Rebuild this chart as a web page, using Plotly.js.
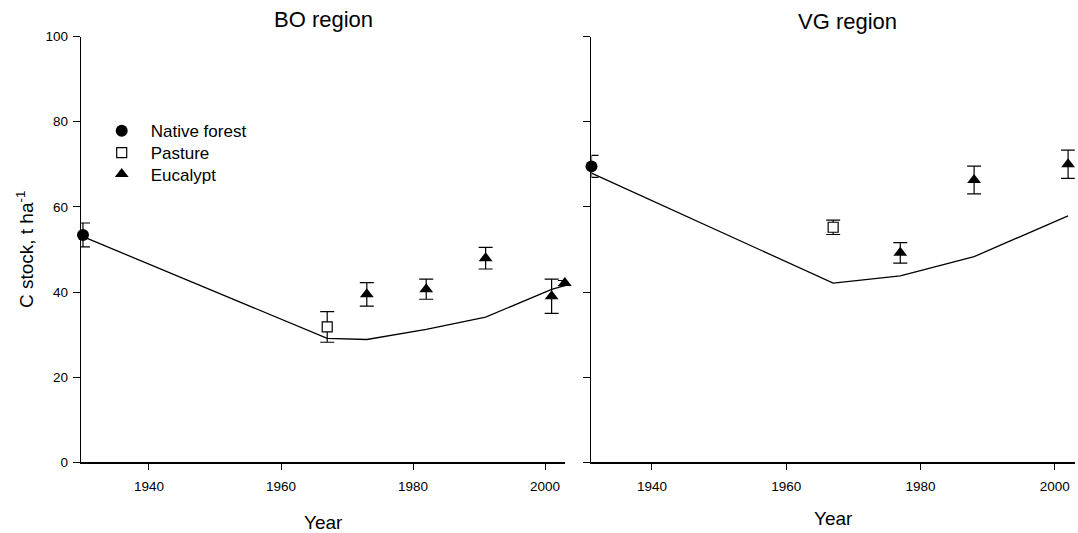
<!DOCTYPE html>
<html>
<head>
<meta charset="utf-8">
<script src="https://cdn.plot.ly/plotly-3.0.1.min.js"></script>
<style>
  html, body { margin: 0; padding: 0; background: #ffffff; }
  #chart { width: 1078px; height: 533px; }
</style>
</head>
<body>
<div id="chart"></div>
<script>
// ---- BO region ----
const boNativeYear = [1930];
const boNativeC = [53.4];
const boNativeErr = [2.8];

const boPastureYear = [1967];
const boPastureC = [31.8];
const boPastureErr = [3.6];

const boEucYears = [1973, 1982, 1991, 2001, 2003];
const boEucC = [39.45, 40.65, 47.95, 39.0, 42.1];
const boEucErr = [2.75, 2.35, 2.55, 4.0, 0.6];

const boModelYears = [1930, 1967, 1973, 1982, 1991, 2001, 2003];
const boModelC = [53.0, 29.1, 28.85, 31.2, 34.1, 40.6, 41.5];

// ---- VG region ----
const vgNativeYear = [1931];
const vgNativeC = [69.5];
const vgNativeErr = [2.6];

const vgPastureYear = [1967];
const vgPastureC = [55.2];
const vgPastureErr = [1.7];

const vgEucYears = [1977, 1988, 2002];
const vgEucC = [49.2, 66.3, 70.0];
const vgEucErr = [2.4, 3.25, 3.3];

const vgModelYears = [1931, 1967, 1977, 1988, 2002];
const vgModelC = [67.9, 42.1, 43.8, 48.3, 57.9];

// ---- labels ----
const panelTitles = ['BO region', 'VG region'];
const seriesNames = ['Native forest', 'Pasture', 'Eucalypt'];
const xTitle = 'Year';
const yTitle = 'C stock, t ha<sup>-1</sup>';

const FONT = 'Liberation Sans, Arial, Helvetica, sans-serif';

function errBars(arr) {
  return { type: 'data', array: arr, visible: true, color: '#000', thickness: 1.2, width: 7 };
}

const markerNative = { symbol: 'circle', size: 12, color: '#000' };
const markerPasture = { symbol: 'square', size: 10, color: '#fff', line: { color: '#000', width: 1.2 } };
const markerEuc = { symbol: 'triangle-up', size: 12, color: '#000', line: { width: 0 } };

function panelTraces(xa, ya, mYears, mC, nY, nC, nE, pY, pC, pE, eY, eC, eE, withLegend) {
  return [
    { x: mYears, y: mC, xaxis: xa, yaxis: ya, type: 'scatter', mode: 'lines',
      line: { color: '#000', width: 1.3 }, showlegend: false, cliponaxis: false, hoverinfo: 'x+y' },
    { x: nY, y: nC, xaxis: xa, yaxis: ya, type: 'scatter', mode: 'markers', name: seriesNames[0],
      marker: markerNative, error_y: errBars(nE), showlegend: withLegend, legend: 'legend', cliponaxis: false },
    { x: pY, y: pC, xaxis: xa, yaxis: ya, type: 'scatter', mode: 'markers', name: seriesNames[1],
      marker: markerPasture, error_y: errBars(pE), showlegend: withLegend, legend: 'legend2', cliponaxis: false },
    { x: eY, y: eC, xaxis: xa, yaxis: ya, type: 'scatter', mode: 'markers', name: seriesNames[2],
      marker: markerEuc, error_y: errBars(eE), showlegend: withLegend, legend: 'legend3', cliponaxis: false }
  ];
}

const data = []
  .concat(panelTraces('x', 'y', boModelYears, boModelC, boNativeYear, boNativeC, boNativeErr,
    boPastureYear, boPastureC, boPastureErr, boEucYears, boEucC, boEucErr, true))
  .concat(panelTraces('x2', 'y2', vgModelYears, vgModelC, vgNativeYear, vgNativeC, vgNativeErr,
    vgPastureYear, vgPastureC, vgPastureErr, vgEucYears, vgEucC, vgEucErr, false));

function xAxis(domain, range, anchor, standoff) {
  return {
    domain: domain, range: range, anchor: anchor,
    tickmode: 'linear', tick0: 1940, dtick: 20,
    ticks: 'outside', ticklen: 6, tickwidth: 1, tickcolor: '#000',
    ticklabelstandoff: 5,
    showline: true, linecolor: '#000', linewidth: 1.2,
    showgrid: false, zeroline: false, automargin: false,
    tickfont: { size: 13.5, color: '#000' },
    title: { text: xTitle, font: { size: 19, color: '#000' }, standoff: standoff }
  };
}

function yAxis(anchor, withLabels) {
  const ax = {
    domain: [0.1326, 0.9315], range: [0, 100], anchor: anchor,
    tickmode: 'linear', tick0: 0, dtick: 20,
    ticks: 'outside', ticklen: 7, tickwidth: 1, tickcolor: '#000',
    showline: true, linecolor: '#000', linewidth: 1.2,
    showgrid: false, zeroline: false, automargin: false,
    showticklabels: withLabels,
    tickfont: { size: 13.5, color: '#000' }
  };
  if (withLabels) {
    ax.ticklabelstandoff = 2;
    ax.title = { text: yTitle, font: { size: 19, color: '#000' }, standoff: 7 };
  }
  return ax;
}

function legendBox(yTop) {
  return {
    x: 0.0860, y: yTop, xanchor: 'left', yanchor: 'top',
    bgcolor: 'rgba(0,0,0,0)', borderwidth: 0, itemwidth: 48,
    font: { size: 17, color: '#000', family: FONT }
  };
}

const layout = {
  width: 1078, height: 533,
  margin: { l: 0, r: 0, t: 0, b: 0 },
  paper_bgcolor: '#fff', plot_bgcolor: '#fff',
  font: { family: FONT, color: '#000' },
  showlegend: true,
  xaxis: xAxis([0.07514, 0.52458], [1929.7, 2003.1], 'y', 23),
  yaxis: yAxis('x', true),
  xaxis2: xAxis([0.5487, 0.99703], [1931, 2003], 'y2', 19),
  yaxis2: yAxis('x2', false),
  legend: legendBox(0.78771),
  legend2: legendBox(0.74644),
  legend3: legendBox(0.70647),
  annotations: [
    { text: panelTitles[0], xref: 'paper', yref: 'paper', x: 323 / 1078, y: 0.9626,
      xanchor: 'center', yanchor: 'middle', showarrow: false, font: { size: 22, color: '#000' } },
    { text: panelTitles[1], xref: 'paper', yref: 'paper', x: 847 / 1078, y: 0.9588,
      xanchor: 'center', yanchor: 'middle', showarrow: false, font: { size: 22, color: '#000' } }
  ]
};

Plotly.newPlot('chart', data, layout, { displayModeBar: false, staticPlot: true });
</script>
</body>
</html>
